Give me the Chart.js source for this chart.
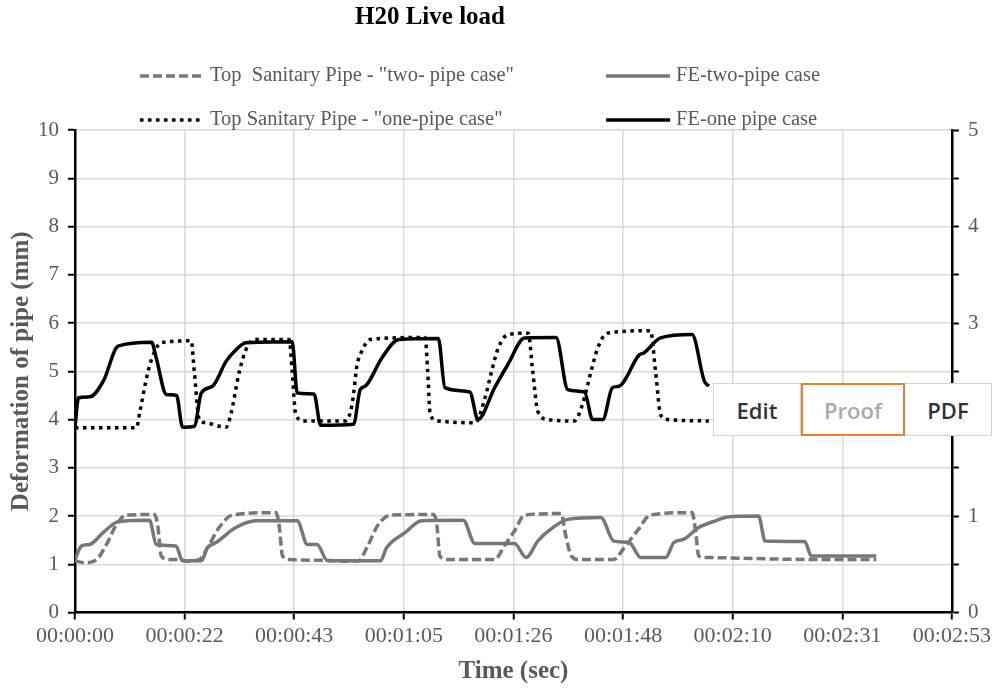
<!DOCTYPE html>
<html>
<head>
<meta charset="utf-8">
<script src="https://cdn.jsdelivr.net/npm/chart.js@4.4.1/dist/chart.umd.min.js"></script>
<style>
  body { margin: 0; background: #fff; }
  #wrap { position: relative; width: 995px; height: 690px; }
  #tools {
    position: absolute; left: 713px; top: 383px; height: 53px;
    display: flex; background: #fff; border: 1px solid #d4d4d4; box-sizing: border-box;
    font-family: 'Open Sans', sans-serif; font-weight: 600; font-size: 22px;
  }
  #tools div { display: flex; align-items: center; justify-content: center; box-sizing: border-box; }
  #tools .edit { width: 87px; color: #333; border-right: 1px solid #d4d4d4; }
  #tools .proof { width: 104px; color: #aaa; border: 2px solid #e8802f; margin: -1px 0; height: 53px; }
  #tools .pdf { width: 86px; color: #333; }
</style>
</head>
<body>
<div id="wrap">
  <canvas id="chart" width="995" height="690"></canvas>
  <div id="tools"><div class="edit">Edit</div><div class="proof">Proof</div><div class="pdf">PDF</div></div>
</div>
<script>
// axis ticks
const xTickValues = [0, 21.6, 43.2, 64.8, 86.4, 108, 129.6, 151.2, 172.8];
const xTickLabels = ['00:00:00', '00:00:22', '00:00:43', '00:01:05', '00:01:26', '00:01:48', '00:02:10', '00:02:31', '00:02:53'];
const yLeftTicks = [0, 1, 2, 3, 4, 5, 6, 7, 8, 9, 10];
const yRightTicks = [0, 1, 2, 3, 4, 5];

// FE-one pipe case (seconds / mm)
const tOnePipeFE = [0, 0.7, 2.9, 5.6, 8.5, 15.1, 16.0, 18.0, 20.0, 21.2, 23.5, 24.9, 27.1, 29.8, 31.4, 33.7, 42.8, 43.8, 47.1, 48.4, 54.9, 56.2, 57.2, 60.5, 63.8, 71.6, 72.9, 77.8, 79.4, 82.7, 85.3, 88.6, 94.8, 97.1, 100.4, 102.0, 104.0, 105.9, 107.2, 111.2, 112.1, 115.4, 121.6, 124.0, 124.9];
const vOnePipeFE = [3.85, 4.45, 4.47, 4.80, 5.52, 5.60, 5.28, 4.52, 4.50, 3.84, 3.86, 4.55, 4.69, 5.21, 5.41, 5.59, 5.61, 4.55, 4.53, 3.88, 3.90, 4.62, 4.69, 5.28, 5.66, 5.68, 4.66, 4.57, 4.00, 4.66, 5.14, 5.69, 5.70, 4.62, 4.57, 4.00, 4.00, 4.66, 4.69, 5.34, 5.38, 5.69, 5.76, 4.80, 4.69];

// Top Sanitary Pipe - one-pipe case
const tOnePipeTop = [0, 12.1, 12.8, 14.4, 15.7, 17.0, 22.9, 23.5, 24.5, 25.8, 29.8, 30.7, 32.4, 34.0, 35.6, 42.2, 42.8, 43.5, 45.1, 53.3, 54.6, 55.6, 56.2, 58.2, 69.0, 69.5, 70.0, 71.6, 78.8, 80.8, 82.1, 83.4, 85.3, 89.3, 90.2, 91.2, 93.2, 98.4, 100.0, 101.7, 103.0, 104.9, 113.4, 114.4, 115.4, 116.7, 124.9];
const vOnePipeTop = [3.83, 3.83, 4.17, 5.00, 5.41, 5.59, 5.63, 5.00, 4.00, 3.93, 3.84, 4.10, 5.00, 5.52, 5.66, 5.66, 5.00, 4.10, 3.97, 3.97, 4.31, 5.14, 5.34, 5.66, 5.70, 5.00, 4.10, 3.97, 3.93, 4.45, 5.00, 5.48, 5.76, 5.79, 5.00, 4.17, 4.00, 3.97, 4.31, 5.00, 5.48, 5.79, 5.84, 5.00, 4.10, 4.00, 3.97];

// FE-two-pipe case
const tTwoPipeFE = [0, 1.3, 2.9, 5.6, 8.5, 14.7, 16.0, 19.9, 21.2, 24.9, 26.1, 27.8, 31.7, 35.6, 43.8, 45.8, 47.7, 49.7, 60.2, 61.4, 65.1, 68.3, 76.5, 78.8, 86.6, 88.9, 91.2, 93.2, 97.1, 103.6, 106.2, 109.2, 111.5, 116.4, 118.0, 120.0, 122.9, 126.5, 128.5, 134.7, 136.0, 143.8, 145.1, 157.9];
const vTwoPipeFE = [1.10, 1.38, 1.41, 1.66, 1.88, 1.91, 1.41, 1.38, 1.07, 1.07, 1.34, 1.45, 1.76, 1.90, 1.90, 1.41, 1.41, 1.08, 1.07, 1.34, 1.66, 1.90, 1.91, 1.43, 1.43, 1.14, 1.48, 1.68, 1.93, 1.97, 1.48, 1.45, 1.14, 1.14, 1.45, 1.52, 1.76, 1.91, 1.98, 2.00, 1.48, 1.47, 1.17, 1.17];

// Top Sanitary Pipe - two-pipe case
const tTwoPipeTop = [0, 2.0, 4.3, 6.2, 8.2, 10.1, 15.7, 16.3, 17.0, 18.3, 20.6, 21.9, 24.5, 26.1, 28.4, 31.0, 39.6, 40.2, 40.9, 42.2, 49.4, 53.9, 55.9, 57.5, 59.8, 62.4, 70.6, 71.3, 71.9, 73.5, 82.7, 84.6, 86.6, 88.6, 95.8, 96.7, 97.8, 99.1, 106.2, 108.2, 110.8, 113.4, 121.6, 122.3, 122.9, 124.5, 144.8, 157.9];
const vTwoPipeTop = [1.07, 1.03, 1.10, 1.41, 1.83, 2.02, 2.03, 1.80, 1.17, 1.10, 1.10, 1.06, 1.10, 1.34, 1.76, 2.02, 2.07, 1.83, 1.17, 1.10, 1.08, 1.06, 1.07, 1.34, 1.83, 2.02, 2.03, 1.83, 1.17, 1.10, 1.10, 1.38, 1.69, 2.02, 2.05, 1.60, 1.17, 1.10, 1.10, 1.34, 1.69, 2.02, 2.07, 1.69, 1.17, 1.14, 1.10, 1.10];

const SERIF = "'Liberation Serif', 'Times New Roman', serif";
const TEXT_GREY = '#595959';
const LINE_GREY = '#777777';

function points(ts, vs) {
  return ts.map((t, i) => ({ x: t, y: vs[i] }));
}

// first dataset is drawn on top; legend slot is where the entry sits
const datasets = [
  { label: 'FE-one pipe case', data: points(tOnePipeFE, vOnePipeFE),
    borderColor: '#000', borderWidth: 3.5, borderDash: [], slot: [606, 120] },
  { label: 'Top Sanitary Pipe - "one-pipe case"', data: points(tOnePipeTop, vOnePipeTop),
    borderColor: '#000', borderWidth: 3.5, borderDash: [3.5, 4.5], slot: [140, 120] },
  { label: 'FE-two-pipe case', data: points(tTwoPipeFE, vTwoPipeFE),
    borderColor: LINE_GREY, borderWidth: 3.5, borderDash: [], slot: [606, 76] },
  { label: 'Top  Sanitary Pipe - "two- pipe case"', data: points(tTwoPipeTop, vTwoPipeTop),
    borderColor: LINE_GREY, borderWidth: 3.5, borderDash: [9, 4], slot: [140, 76] }
];

const titleAndLegend = {
  id: 'titleAndLegend',
  afterDraw(chart) {
    const ctx = chart.ctx;
    ctx.save();
    ctx.textBaseline = 'middle';
    ctx.fillStyle = '#000';
    ctx.textAlign = 'center';
    ctx.font = 'bold 25px ' + SERIF;
    ctx.fillText('H20 Live load', 430, 18);

    ctx.textAlign = 'left';
    ctx.font = '20.5px ' + SERIF;
    chart.data.datasets.forEach(ds => {
      const [x, y] = ds.slot;
      ctx.beginPath();
      ctx.strokeStyle = ds.borderColor;
      ctx.lineWidth = ds.borderWidth;
      ctx.setLineDash(ds.borderDash);
      ctx.moveTo(x, y);
      ctx.lineTo(x + 64, y);
      ctx.stroke();
      ctx.setLineDash([]);
      ctx.fillStyle = TEXT_GREY;
      ctx.fillText(ds.label, x + 70, y);
    });
    ctx.restore();
  }
};

const isMajor = v => Math.abs(v - Math.round(v)) < 1e-6;

new Chart(document.getElementById('chart'), {
  type: 'line',
  data: { datasets: datasets },
  options: {
    responsive: false,
    animation: false,
    layout: { padding: { top: 130, left: 0, right: 0, bottom: 0 } },
    elements: {
      point: { radius: 0 },
      line: { cubicInterpolationMode: 'monotone', borderCapStyle: 'butt', borderJoinStyle: 'round', fill: false }
    },
    plugins: { legend: { display: false }, title: { display: false }, tooltip: { enabled: false } },
    scales: {
      x: {
        type: 'linear', min: 0, max: 172.8,
        afterBuildTicks: s => { s.ticks = xTickValues.map(v => ({ value: v })); },
        afterFit: s => { s.height = 77.5; },
        ticks: {
          autoSkip: false, maxRotation: 0, padding: 4, color: TEXT_GREY,
          font: { family: SERIF, size: 22 },
          callback: (v, i) => xTickLabels[i]
        },
        grid: { color: '#d9d9d9', lineWidth: 1.5, tickColor: '#000', tickLength: 7, tickWidth: 2 },
        border: { color: '#000', width: 2.5 },
        title: { display: true, text: 'Time (sec)', color: TEXT_GREY,
          font: { family: SERIF, size: 25, weight: 'bold' }, padding: { top: 4, bottom: 3 } }
      },
      y: {
        position: 'left', min: 0, max: 10,
        afterBuildTicks: s => {
          const t = [];
          yLeftTicks.forEach((v, i) => {
            t.push({ value: v });
            if (i < yLeftTicks.length - 1) t.push({ value: (v + yLeftTicks[i + 1]) / 2 });
          });
          s.ticks = t;
        },
        afterFit: s => { s.width = 75; },
        ticks: {
          padding: 9, color: TEXT_GREY, font: { family: SERIF, size: 21 },
          callback: v => isMajor(v) ? String(v) : ''
        },
        grid: {
          color: c => isMajor(c.tick.value) ? '#d9d9d9' : 'rgba(0,0,0,0)',
          lineWidth: 1.5, tickColor: '#000', tickLength: 7, tickWidth: 2
        },
        border: { color: '#000', width: 2.5 },
        title: { display: true, text: 'Deformation of pipe (mm)', color: TEXT_GREY,
          font: { family: SERIF, size: 25, weight: 'bold' }, padding: { top: 7, bottom: 4 } }
      },
      y2: {
        position: 'right', min: 0, max: 5,
        afterBuildTicks: s => {
          const t = [];
          yRightTicks.forEach((v, i) => {
            t.push({ value: v });
            if (i < yRightTicks.length - 1) t.push({ value: (v + yRightTicks[i + 1]) / 2 });
          });
          s.ticks = t;
        },
        afterFit: s => { s.width = 39; },
        ticks: {
          padding: 9, color: TEXT_GREY, font: { family: SERIF, size: 21 },
          callback: v => isMajor(v) ? String(v) : ''
        },
        grid: { drawOnChartArea: false, color: '#000', tickColor: '#000', tickLength: 7, tickWidth: 2 },
        border: { color: '#000', width: 2.5 }
      }
    }
  },
  plugins: [titleAndLegend]
});
</script>
</body>
</html>
